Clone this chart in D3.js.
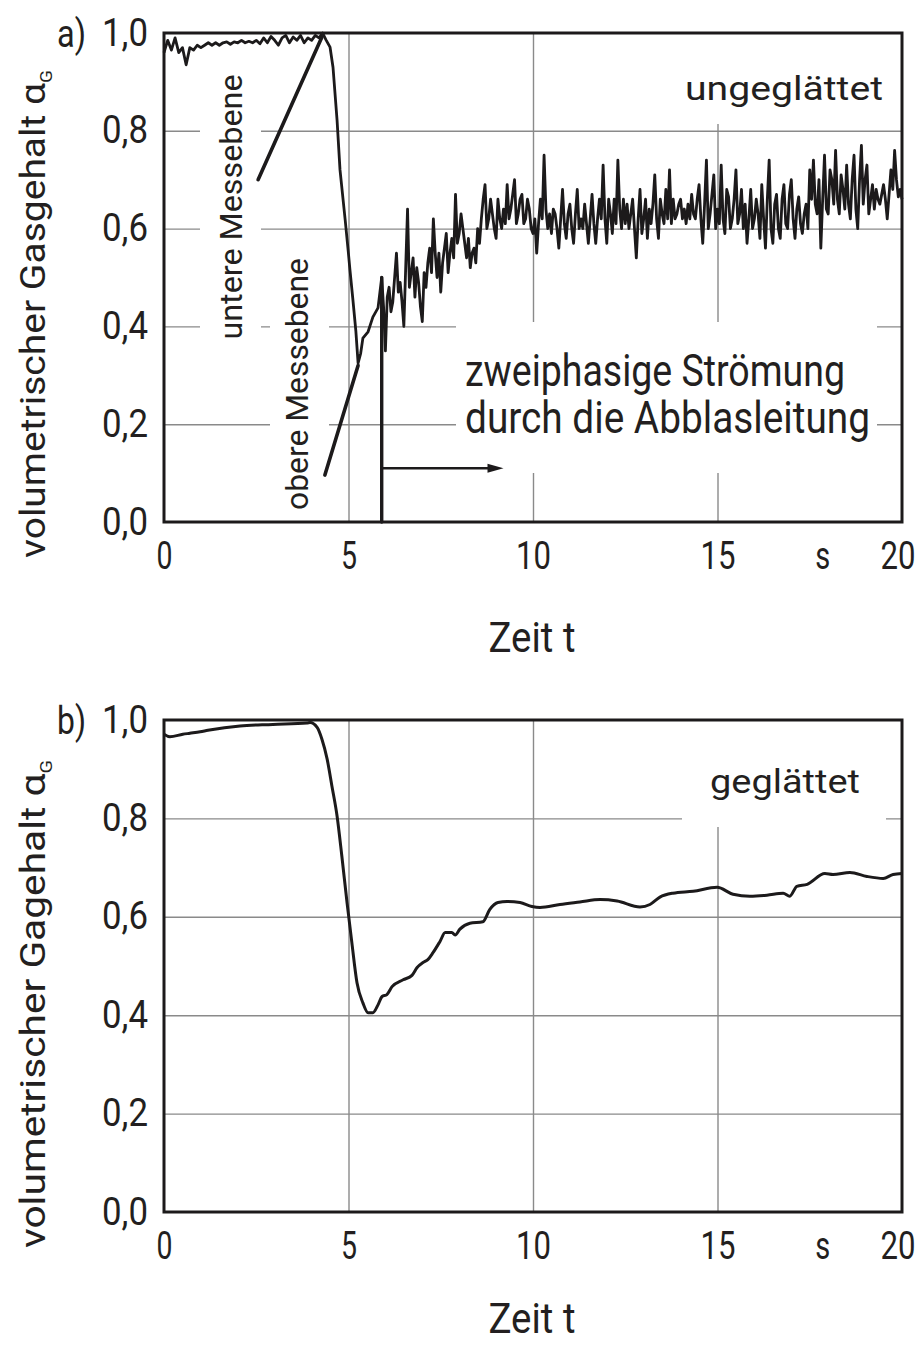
<!DOCTYPE html>
<html>
<head>
<meta charset="utf-8">
<script src="https://cdn.jsdelivr.net/npm/d3@7"></script>
<style>
  body { margin: 0; background: #fff; }
  svg text { font-family: Roboto, "DejaVu Sans", sans-serif; fill: #231f20; }
</style>
</head>
<body>
<svg id="chart" width="923" height="1346"></svg>
<script>
// ---- axis ticks ----
const ticksX = [0, 5, 10, 15, 20];
const ticksY = [0, 0.2, 0.4, 0.6, 0.8, 1.0];
const gridX = [5, 10, 15];
const gridY = [0.2, 0.4, 0.6, 0.8];

// ---- a) raw signal ----
// 0 ... 4.3 s, sampled every 0.1 s
const rawStartStep = 0.1;
const rawStart = [0.96,0.985,0.965,0.99,0.96,0.97,0.935,0.97,0.965,0.975,
  0.97,0.975,0.98,0.975,0.98,0.975,0.98,0.982,0.977,0.982,
  0.98,0.985,0.98,0.983,0.98,0.985,0.978,0.99,0.98,0.993,
  0.985,0.975,0.99,0.995,0.98,0.992,0.985,0.995,0.98,0.99,
  0.985,0.995,0.99,1.0];
// drop of the gas content after the valve opens
const dropTime = [4.39,4.50,4.58,4.69,4.77,4.91,4.99,5.04,5.12,5.20,5.26,5.33,5.39,5.53,5.66,5.80];
const dropGas  = [0.986,0.971,0.93,0.822,0.72,0.618,0.556,0.515,0.454,0.39,0.325,0.345,0.376,0.389,0.419,0.438];
// two-phase flow, 5.9 ... 20 s, sampled every 0.05 s
const flowStart = 5.9;
const flowStep = 0.05;
const flowGas = [
  0.50,0.44, 0.35,0.46, 0.48,0.43, 0.45,0.50, 0.55,0.47, 0.49,0.45, 0.40,0.52, 0.64,0.48, 0.51,0.54, 0.46,0.52,
  0.49,0.44, 0.41,0.51, 0.48,0.53, 0.56,0.51, 0.62,0.55, 0.50,0.55, 0.47,0.53, 0.56,0.59, 0.51,0.55, 0.58,0.54,
  0.67,0.57, 0.59,0.63, 0.60,0.57, 0.54,0.58, 0.52,0.55, 0.56,0.53, 0.60,0.57, 0.62,0.66, 0.69,0.60, 0.62,0.66,
  0.63,0.60, 0.58,0.66, 0.62,0.60, 0.64,0.61, 0.69,0.62, 0.64,0.67, 0.70,0.61, 0.63,0.66, 0.67,0.61, 0.62,0.66,
  0.64,0.60, 0.59,0.62, 0.55,0.61, 0.66,0.62, 0.75,0.64, 0.60,0.63, 0.59,0.64, 0.63,0.60, 0.56,0.62, 0.68,0.61,
  0.58,0.63, 0.65,0.60, 0.57,0.63, 0.68,0.60, 0.62,0.60, 0.65,0.61, 0.57,0.62, 0.67,0.61, 0.57,0.62, 0.66,0.62,
  0.73,0.62, 0.57,0.66, 0.63,0.59, 0.66,0.61, 0.74,0.64, 0.60,0.66, 0.61,0.65, 0.60,0.63, 0.66,0.60, 0.54,0.62,
  0.68,0.59, 0.62,0.66, 0.58,0.64, 0.61,0.65, 0.71,0.62, 0.58,0.66, 0.63,0.61, 0.68,0.62, 0.72,0.61, 0.66,0.62,
  0.63,0.65, 0.66,0.62, 0.64,0.61, 0.65,0.62, 0.67,0.63, 0.62,0.66, 0.69,0.62, 0.57,0.65, 0.74,0.60, 0.63,0.67,
  0.71,0.60, 0.64,0.61, 0.73,0.62, 0.59,0.68, 0.665,0.60, 0.62,0.66, 0.72,0.61, 0.63,0.68, 0.60,0.65, 0.57,0.62,
  0.68,0.60, 0.62,0.66, 0.63,0.58, 0.69,0.62, 0.56,0.66, 0.74,0.60, 0.57,0.65, 0.67,0.60, 0.58,0.66, 0.69,0.61,
  0.60,0.67, 0.70,0.62, 0.58,0.64, 0.665,0.61, 0.59,0.63, 0.65,0.60, 0.72,0.66, 0.74,0.65, 0.63,0.70, 0.56,0.66,
  0.75,0.64, 0.63,0.72, 0.70,0.65, 0.76,0.66, 0.63,0.71, 0.68,0.64, 0.73,0.65, 0.62,0.70, 0.75,0.64, 0.60,0.70,
  0.77,0.65, 0.70,0.73, 0.63,0.66, 0.69,0.64, 0.68,0.66, 0.65,0.67, 0.69,0.66, 0.62,0.67, 0.72,0.68, 0.76,0.70,
  0.665,0.68, 0.66];

// ---- b) smoothed signal ----
const timeB = [0,0.16,0.51,0.70,0.98,1.19,2.06,2.95,3.88,3.96,
  4.15,4.28,4.42,4.55,4.69,4.82,4.96,5.09,5.23,5.39,
  5.53,5.66,5.80,5.91,6.04,6.18,6.48,6.72,6.86,7.02,
  7.15,7.29,7.48,7.62,7.80,7.89,8.02,8.29,8.64,8.83,
  9.05,9.30,9.65,9.97,10.19,10.73,11.27,11.82,12.28,12.90,
  13.17,13.44,13.79,14.34,14.99,15.42,15.88,16.34,16.78,16.96,
  17.15,17.43,17.91,18.13,18.59,19.05,19.49,19.76,20.0];
const gasB = [0.971,0.966,0.971,0.973,0.976,0.979,0.988,0.991,0.994,0.995,
  0.985,0.961,0.921,0.866,0.805,0.723,0.629,0.548,0.466,0.425,
  0.405,0.405,0.421,0.438,0.442,0.458,0.472,0.481,0.497,0.507,
  0.513,0.527,0.55,0.568,0.568,0.563,0.575,0.587,0.59,0.615,
  0.629,0.631,0.629,0.621,0.619,0.625,0.63,0.635,0.632,0.62,
  0.625,0.64,0.648,0.652,0.66,0.646,0.642,0.644,0.648,0.642,
  0.662,0.666,0.688,0.686,0.69,0.682,0.678,0.686,0.688];

// ---- series assembly ----
const seriesA = [
  ...rawStart.map((v, i) => ({ t: i * rawStartStep, v })),
  ...dropTime.map((t, i) => ({ t, v: dropGas[i] })),
  ...flowGas.map((v, i) => ({ t: flowStart + i * flowStep, v }))
];
const seriesB = timeB.map((t, i) => ({ t, v: gasB[i] }));

const svg = d3.select('#chart');
const ink = '#1c1a1b';
const gridColor = '#8a8a8a';

const x = d3.scaleLinear().domain([0, 20]).range([164, 902]);
const yA = d3.scaleLinear().domain([0, 1]).range([522, 33]);
const yB = d3.scaleLinear().domain([0, 1]).range([1212, 720]);

const fmtY = d => d.toFixed(1).replace('.', ',');

function squeeze(sel, width) {
  sel.attr('textLength', width).attr('lengthAdjust', 'spacingAndGlyphs');
  return sel;
}

function drawPanel(y, cfg) {
  const g = svg.append('g');
  const [bottom, top] = y.range();

  // grid
  g.append('g')
    .attr('transform', `translate(0,${bottom})`)
    .call(d3.axisBottom(x).tickValues(gridX).tickSize(-(bottom - top)).tickFormat(''))
    .call(s => s.select('.domain').remove())
    .selectAll('line').attr('stroke', gridColor).attr('stroke-width', 1.4);
  g.append('g')
    .attr('transform', `translate(${x(0)},0)`)
    .call(d3.axisLeft(y).tickValues(gridY).tickSize(-(x(20) - x(0))).tickFormat(''))
    .call(s => s.select('.domain').remove())
    .selectAll('line').attr('stroke', gridColor).attr('stroke-width', 1.4);

  // white label backgrounds [t0, t1, v0, v1]
  cfg.boxes.forEach(b => {
    g.append('rect')
      .attr('x', x(b[0])).attr('width', x(b[1]) - x(b[0]))
      .attr('y', y(b[3])).attr('height', y(b[2]) - y(b[3]))
      .attr('fill', '#fff');
  });

  // tick labels; the last one is kept inside the page edge
  const xa = g.append('g')
    .attr('transform', `translate(0,${bottom})`)
    .call(d3.axisBottom(x).tickValues(ticksX).tickSize(0).tickFormat(d3.format('d')));
  xa.select('.domain').remove();
  xa.selectAll('text')
    .attr('y', 47).attr('dy', 0)
    .attr('font-size', 38)
    .attr('fill', '#231f20')
    .attr('text-anchor', d => d === 20 ? 'end' : 'middle')
    .attr('x', d => d === 20 ? 13 : 0)
    .each(function (d) { squeeze(d3.select(this), d < 10 ? 16 : 35); });

  const ya = g.append('g')
    .attr('transform', `translate(${x(0)},0)`)
    .call(d3.axisLeft(y).tickValues(ticksY).tickSize(0).tickPadding(16).tickFormat(fmtY));
  ya.select('.domain').remove();
  ya.selectAll('text')
    .attr('font-size', 38)
    .attr('fill', '#231f20')
    .each(function () { squeeze(d3.select(this), 46); });
  xa.attr('font-family', null); ya.attr('font-family', null);

  // unit "s"
  squeeze(g.append('text').attr('x', x(17.85)).attr('y', bottom + 47)
    .attr('text-anchor', 'middle').attr('font-size', 38).text('s'), 15);

  // panel letter
  squeeze(g.append('text').attr('x', 57).attr('y', top + 14)
    .attr('font-size', 38).text(cfg.letter), 29);

  // x title
  squeeze(g.append('text').attr('x', 532).attr('y', bottom + cfg.xTitleGap)
    .attr('text-anchor', 'middle').attr('font-size', 42).text('Zeit t'), 87);

  // y title with subscript
  const yt = g.append('text')
    .attr('transform', `translate(45,${cfg.titleY}) rotate(-90)`)
    .attr('text-anchor', 'middle').attr('font-size', 35);
  yt.append('tspan').text(cfg.yTitle + ' α');
  yt.append('tspan').text('G').attr('font-size', 17).attr('dy', 7);
  squeeze(yt, 488);

  // frame
  g.append('rect')
    .attr('x', x(0)).attr('y', top)
    .attr('width', x(20) - x(0)).attr('height', bottom - top)
    .attr('fill', 'none').attr('stroke', ink).attr('stroke-width', 3);

  return g;
}

// ===== panel a =====
const ga = drawPanel(yA, {
  letter: 'a)',
  yTitle: 'volumetrischer Gasgehalt',
  titleY: 314,
  xTitleGap: 130,
  boxes: [
    [13.7, 20, yA.invert(124), 1.0],
    [x.invert(200), x.invert(261), yA.invert(347), yA.invert(52)],
    [x.invert(270), x.invert(329), yA.invert(518), yA.invert(250)],
    [x.invert(456), x.invert(877), yA.invert(473), yA.invert(322)]
  ]
});

squeeze(ga.append('text').attr('x', 685).attr('y', 100).attr('font-size', 34).text('ungeglättet'), 198);
squeeze(ga.append('text').attr('x', 465).attr('y', 386).attr('font-size', 44).text('zweiphasige Strömung'), 380);
squeeze(ga.append('text').attr('x', 465).attr('y', 433).attr('font-size', 44).text('durch die Abblasleitung'), 405);
squeeze(ga.append('text').attr('transform', 'translate(242,207) rotate(-90)')
  .attr('text-anchor', 'middle').attr('font-size', 32).text('untere Messebene'), 265);
squeeze(ga.append('text').attr('transform', 'translate(308,384) rotate(-90)')
  .attr('text-anchor', 'middle').attr('font-size', 32).text('obere Messebene'), 252);

const lineA = d3.line().x(d => x(d.t)).y(d => yA(d.v));
ga.append('path').datum(seriesA)
  .attr('d', lineA).attr('fill', 'none')
  .attr('stroke', ink).attr('stroke-width', 2.8).attr('stroke-linejoin', 'round');

// pointers to the measuring planes
const pointer = (t0, v0, t1, v1, w) => ga.append('line')
  .attr('x1', x(t0)).attr('y1', yA(v0)).attr('x2', x(t1)).attr('y2', yA(v1))
  .attr('stroke', ink).attr('stroke-width', w).attr('stroke-linecap', 'round');
pointer(2.55, 0.70, 4.28, 0.992, 3.6);
pointer(4.36, 0.096, 5.26, 0.32, 3.6);

// start of two-phase flow
pointer(5.9, 0, 5.9, 0.50, 3.4);
pointer(5.9, 0.11, 9.0, 0.11, 2.4);
const tipX = x(9.2), tipY = yA(0.11);
ga.append('path')
  .attr('d', `M${tipX},${tipY} L${tipX - 16},${tipY - 4.5} L${tipX - 16},${tipY + 4.5} Z`)
  .attr('fill', ink);

// ===== panel b =====
const gb = drawPanel(yB, {
  letter: 'b)',
  yTitle: 'volumetrischer Gagehalt',
  titleY: 1004,
  xTitleGap: 121,
  boxes: [
    [x.invert(682), x.invert(886), yB.invert(827), 1.0]
  ]
});
squeeze(gb.append('text').attr('x', 710).attr('y', 793).attr('font-size', 34).text('geglättet'), 150);

const lineB = d3.line().x(d => x(d.t)).y(d => yB(d.v)).curve(d3.curveMonotoneX);
gb.append('path').datum(seriesB)
  .attr('d', lineB).attr('fill', 'none')
  .attr('stroke', ink).attr('stroke-width', 3).attr('stroke-linejoin', 'round');
</script>
</body>
</html>
